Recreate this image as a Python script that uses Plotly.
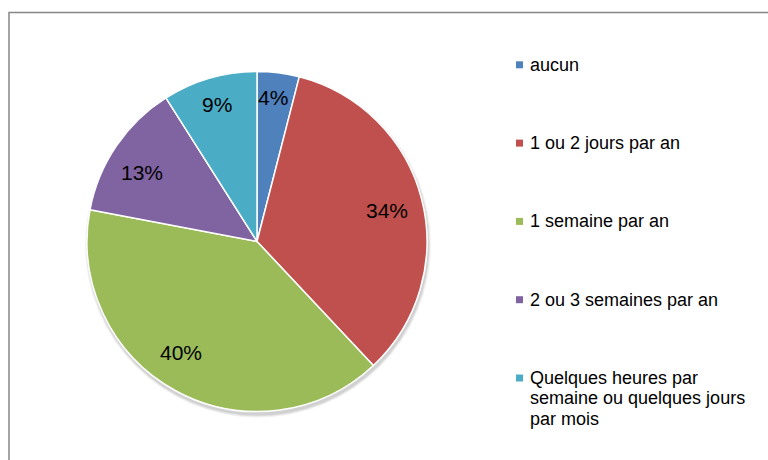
import math
import plotly.graph_objects as go

# ---- data ----
categories = [
    "aucun",
    "1 ou 2 jours par an",
    "1 semaine par an",
    "2 ou 3 semaines par an",
    "Quelques heures par<br>semaine ou quelques jours<br>par mois",
]
values = [4, 34, 40, 13, 9]
colors = ["#4F81BD", "#C0504D", "#9BBB59", "#8064A2", "#4BACC6"]

# ---- layout / style ----
W, H = 768, 460
cx, cy, r = 257.0, 241.5, 170.0          # pie centre / radius in pixels
label_radius = [0.85, 0.785, 0.79, 0.79, 0.84]      # label distance (fraction of radius)
label_angle_shift = [-0.85, 1.0, 5.6, -3.4, -0.2]   # degrees, best-fit style nudges
FONT = "Liberation Sans, Arial, sans-serif"

def px(x):
    return x / W

def py(y):
    return 1 - y / H

fig = go.Figure()
fig.add_trace(go.Pie(
    labels=[c.replace("<br>", " ") for c in categories],
    values=values,
    sort=False,
    direction="clockwise",
    rotation=0,
    marker=dict(colors=colors, line=dict(color="white", width=1.5)),
    textinfo="none",
    hoverinfo="label+percent",
    showlegend=False,
    domain=dict(x=[px(cx - r), px(cx + r)], y=[py(cy + r), py(cy - r)]),
))

shapes = []
# soft shadow under the pie
for k, a in enumerate([0.05, 0.06, 0.08]):
    rr = r + 3 - k
    ox, oy = cx + 1, cy + 3
    shapes.append(dict(type="circle", xref="paper", yref="paper", layer="below",
                       x0=px(ox - rr), x1=px(ox + rr), y0=py(oy + rr), y1=py(oy - rr),
                       fillcolor=f"rgba(0,0,0,{a})", line=dict(width=0)))
# chart frame (left + top border visible)
shapes.append(dict(type="path", xref="paper", yref="paper", layer="below",
                   path=f"M {px(9)} {py(470)} L {px(9)} {py(12.5)} L {px(780)} {py(12.5)}",
                   line=dict(color="#868686", width=1.5)))

annotations = []
total = sum(values)
cum = 0
for v, f, sh in zip(values, label_radius, label_angle_shift):
    theta = 2 * math.pi * (cum + v / 2) / total + math.radians(sh)
    cum += v
    lx = cx + f * r * math.sin(theta)
    ly = cy - f * r * math.cos(theta)
    annotations.append(dict(x=px(lx), y=py(ly), xref="paper", yref="paper",
                            text=f"{round(100 * v / total)}%", showarrow=False,
                            xanchor="center", yanchor="middle",
                            font=dict(family=FONT, size=21, color="#000000")))

# legend drawn manually (Excel style spacing)
leg_base0, leg_step, line_step = 71.0, 78.3, 20.3
for i, (cat, col) in enumerate(zip(categories, colors)):
    base = leg_base0 + i * leg_step
    mid = base - 6.2
    shapes.append(dict(type="rect", xref="paper", yref="paper",
                       x0=px(516), x1=px(523), y0=py(mid + 3.5), y1=py(mid - 3.5),
                       fillcolor=col, line=dict(width=0)))
    for j, line in enumerate(cat.split("<br>")):
        annotations.append(dict(x=px(527.5), y=py(mid + j * line_step), xref="paper", yref="paper",
                                text=line, showarrow=False, xanchor="left", yanchor="middle",
                                font=dict(family=FONT, size=18, color="#000000")))

fig.update_layout(
    width=W, height=H,
    margin=dict(l=0, r=0, t=0, b=0),
    paper_bgcolor="white",
    plot_bgcolor="white",
    shapes=shapes,
    annotations=annotations,
)

fig.write_html("out.html",
               config={"displayModeBar": False},
               post_script="document.body.style.margin='0px';document.body.style.overflow='hidden';")
